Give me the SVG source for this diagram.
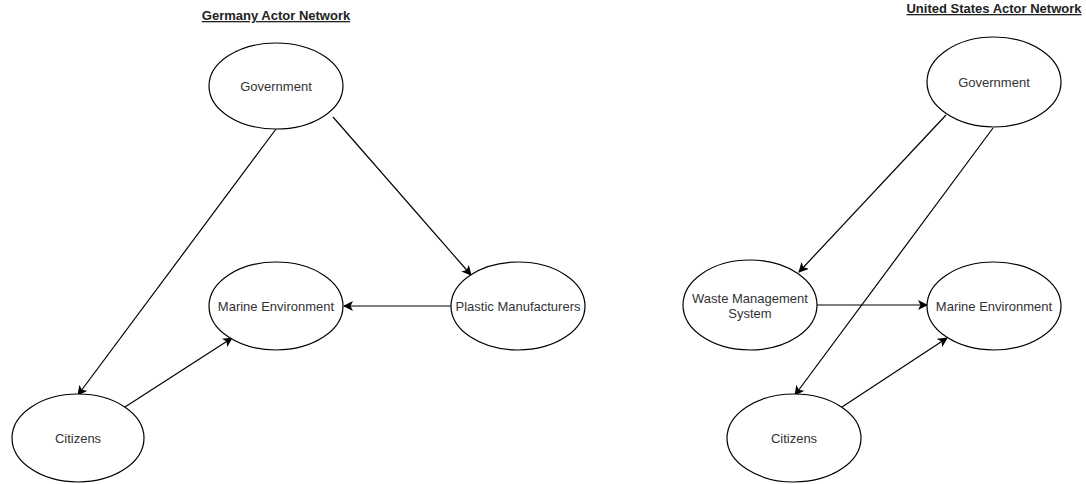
<svg xmlns="http://www.w3.org/2000/svg" width="1086" height="484" viewBox="0 0 1086 484">
<defs>
<marker id="arr" viewBox="0 0 10 10" refX="9" refY="5" markerWidth="10" markerHeight="10" markerUnits="userSpaceOnUse" orient="auto">
<path d="M0,0 L10,5 L0,10 L2.5,5 Z" fill="#000"/>
</marker>
<style>
.node ellipse{fill:#fff;stroke:#000;stroke-width:1.2}
.node text{font-family:"Liberation Sans",Arial,sans-serif;font-size:13px;fill:#333;text-anchor:middle}
.title{font-family:"Liberation Sans",Arial,sans-serif;font-size:13px;font-weight:bold;fill:#222;text-anchor:middle;text-decoration:underline}
.edges line{stroke:#000;stroke-width:1.2;marker-end:url(#arr)}
</style>
</defs>
<rect width="1086" height="484" fill="#fff"/>
<text class="title" x="276" y="20">Germany Actor Network</text>
<text class="title" x="994" y="13">United States Actor Network</text>
<g class="edges">
<line x1="276" y1="129" x2="78" y2="395"/>
<line x1="333" y1="117" x2="471" y2="275"/>
<line x1="451" y1="306" x2="344" y2="306"/>
<line x1="125" y1="407" x2="232" y2="338"/>
<line x1="946" y1="115" x2="799" y2="272"/>
<line x1="993" y1="128" x2="795" y2="395"/>
<line x1="817" y1="305" x2="927" y2="305"/>
<line x1="842" y1="407" x2="947" y2="338"/>
</g>
<g id="de-government" class="node"><ellipse cx="276" cy="86" rx="67" ry="43"/><text x="276" y="91">Government</text></g>
<g id="de-marine" class="node"><ellipse cx="276" cy="306" rx="67" ry="44"/><text x="276" y="311">Marine Environment</text></g>
<g id="de-plastic" class="node"><ellipse cx="518" cy="306" rx="67" ry="44"/><text x="518" y="311">Plastic Manufacturers</text></g>
<g id="de-citizens" class="node"><ellipse cx="78" cy="438" rx="66" ry="44"/><text x="78" y="443">Citizens</text></g>
<g id="us-government" class="node"><ellipse cx="994" cy="82" rx="67" ry="45"/><text x="994" y="87">Government</text></g>
<g id="us-waste" class="node"><ellipse cx="750" cy="305" rx="67" ry="45"/><text x="750" y="303">Waste Management</text><text x="750" y="318">System</text></g>
<g id="us-marine" class="node"><ellipse cx="994" cy="306" rx="67" ry="44"/><text x="994" y="311">Marine Environment</text></g>
<g id="us-citizens" class="node"><ellipse cx="794" cy="438" rx="67" ry="44"/><text x="794" y="443">Citizens</text></g>
</svg>
